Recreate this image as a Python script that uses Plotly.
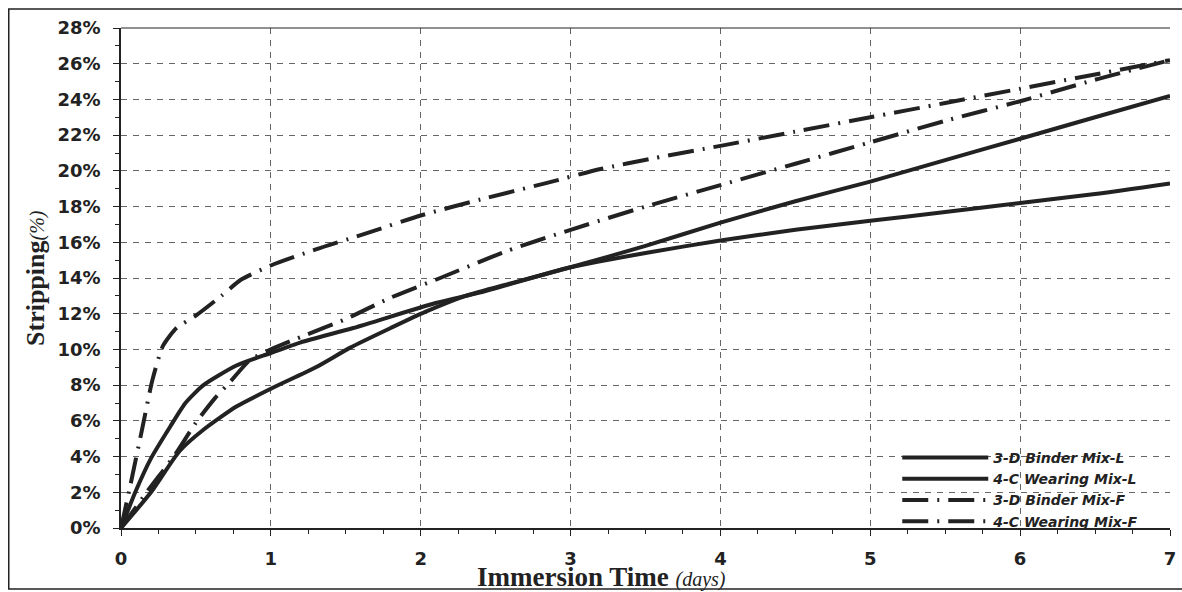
import plotly.graph_objects as go

# Data (x in days, y in % stripping)
x_3d_l = [0, 0.1, 0.2, 0.33, 0.43, 0.55, 0.77, 1.0, 1.2, 1.55, 2.1, 2.4, 3.0, 3.5, 4.0, 4.5, 5.0, 5.5, 6.0, 6.5, 7.0]
y_3d_l = [0, 2.1, 3.9, 5.7, 7.0, 8.0, 9.1, 9.8, 10.4, 11.2, 12.6, 13.2, 14.6, 15.4, 16.1, 16.7, 17.2, 17.7, 18.2, 18.7, 19.3]

x_4c_l = [0, 0.2, 0.39, 0.55, 0.77, 1.0, 1.3, 1.53, 1.8, 2.03, 2.3, 2.6, 3.0, 3.5, 4.0, 4.5, 5.0, 5.5, 6.0, 6.5, 7.0]
y_4c_l = [0, 2.0, 4.3, 5.5, 6.8, 7.8, 9.0, 10.1, 11.2, 12.1, 13.0, 13.7, 14.6, 15.8, 17.1, 18.3, 19.4, 20.6, 21.8, 23.0, 24.2]

x_3d_f = [0, 0.06, 0.14, 0.21, 0.28, 0.37, 0.5, 0.67, 0.8, 1.0, 1.3, 1.6, 2.0, 2.4, 2.83, 3.2, 3.55, 4.0, 4.5, 5.0, 5.5, 6.0, 6.5, 7.0]
y_3d_f = [0, 2.3, 5.5, 8.3, 10.2, 11.2, 11.9, 13.0, 13.9, 14.7, 15.6, 16.4, 17.5, 18.4, 19.3, 20.1, 20.7, 21.4, 22.2, 23.0, 23.8, 24.6, 25.4, 26.2]

x_4c_f = [0, 0.18, 0.36, 0.5, 0.63, 0.73, 0.86, 1.0, 1.2, 1.5, 1.8, 2.13, 2.57, 3.0, 3.5, 4.0, 4.5, 5.0, 5.5, 6.0, 6.5, 7.0]
y_4c_f = [0, 2.1, 4.1, 5.9, 7.3, 8.2, 9.4, 10.0, 10.7, 11.7, 12.9, 14.0, 15.5, 16.7, 18.0, 19.2, 20.4, 21.6, 22.8, 23.9, 25.1, 26.2]

names = ["3-D Binder Mix-L", "4-C Wearing Mix-L", "3-D Binder Mix-F", "4-C Wearing Mix-F"]
x_ticks = [0, 1, 2, 3, 4, 5, 6, 7]
y_ticks = list(range(0, 29, 2))
y_tick_text = [f"{v}%" for v in y_ticks]

ink = "#222222"
grid = "#666666"
sans = "DejaVu Sans, Arial"
serif = "Liberation Serif, Times New Roman"

fig = go.Figure()
series = [(x_3d_l, y_3d_l, "solid"), (x_4c_l, y_4c_l, "solid"),
          (x_3d_f, y_3d_f, "26px,9px,2px,9px"), (x_4c_f, y_4c_f, "26px,9px,2px,9px")]
for (xs, ys, dash), nm in zip(series, names):
    fig.add_trace(go.Scatter(x=xs, y=ys, name=f"<b><i>{nm}</i></b>", mode="lines",
                             line=dict(color=ink, width=4, dash=dash, shape="spline", smoothing=0.6)))

fig.update_layout(
    width=1182, height=592,
    margin=dict(l=121, r=12, t=28, b=64),
    paper_bgcolor="white", plot_bgcolor="white",
    font=dict(family=sans, color=ink),
    showlegend=True,
    legend=dict(x=0.740, y=0.172, xanchor="left", yanchor="top",
                bgcolor="rgba(255,255,255,0)", itemwidth=86,
                font=dict(family=sans, size=14, color=ink),
                tracegroupgap=0),
)
fig.update_xaxes(
    range=[0, 7], tickvals=x_ticks, ticktext=[str(v) for v in x_ticks],
    tickfont=dict(family=sans, size=18, color=ink, weight="bold"),
    showgrid=True, gridcolor=grid, griddash="6px,6px", gridwidth=1,
    showline=True, linecolor=ink, linewidth=1.5,
    ticks="outside", ticklen=6, tickcolor=ink,
    minor=dict(dtick=0.25, ticks="outside", ticklen=4, tickcolor=ink, showgrid=False),
    zeroline=False, ticklabelstandoff=8, automargin=False,
)
fig.update_yaxes(
    range=[0, 28], tickvals=y_ticks, ticktext=y_tick_text,
    tickfont=dict(family=sans, size=18, color=ink, weight="bold"),
    showgrid=True, gridcolor=grid, griddash="6px,6px", gridwidth=1,
    showline=True, linecolor=ink, linewidth=1.5,
    ticks="outside", ticklen=6, tickcolor=ink,
    minor=dict(dtick=1, ticks="outside", ticklen=4, tickcolor=ink, showgrid=False),
    zeroline=False, ticklabelstandoff=9, automargin=False,
)

# Axis titles
fig.add_annotation(xref="paper", yref="paper", x=0.458, y=-0.098, xanchor="center", yanchor="middle",
                   text="<b>Immersion Time</b> <i><span style='font-size:20px'>(days)</span></i>",
                   showarrow=False, font=dict(family=serif, size=27, color=ink))
fig.add_annotation(xref="paper", yref="paper", x=-0.082, y=0.5, xanchor="center", yanchor="middle",
                   text="<b>Stripping</b><i><span style='font-size:20px'>(%)</span></i>", textangle=-90,
                   showarrow=False, font=dict(family=serif, size=26, color=ink))

# Top border line and outer frame
fig.add_shape(type="line", xref="paper", yref="paper", x0=0, x1=1, y0=1, y1=1,
              line=dict(color=ink, width=1))
fig.add_shape(type="rect", xref="paper", yref="paper", x0=-0.107, x1=1.03, y0=-0.122, y1=1.038,
              line=dict(color=ink, width=1.5))

fig.write_html("out.html", config={"displayModeBar": False},
               post_script="document.body.style.margin='0';document.body.style.overflow='hidden';")
